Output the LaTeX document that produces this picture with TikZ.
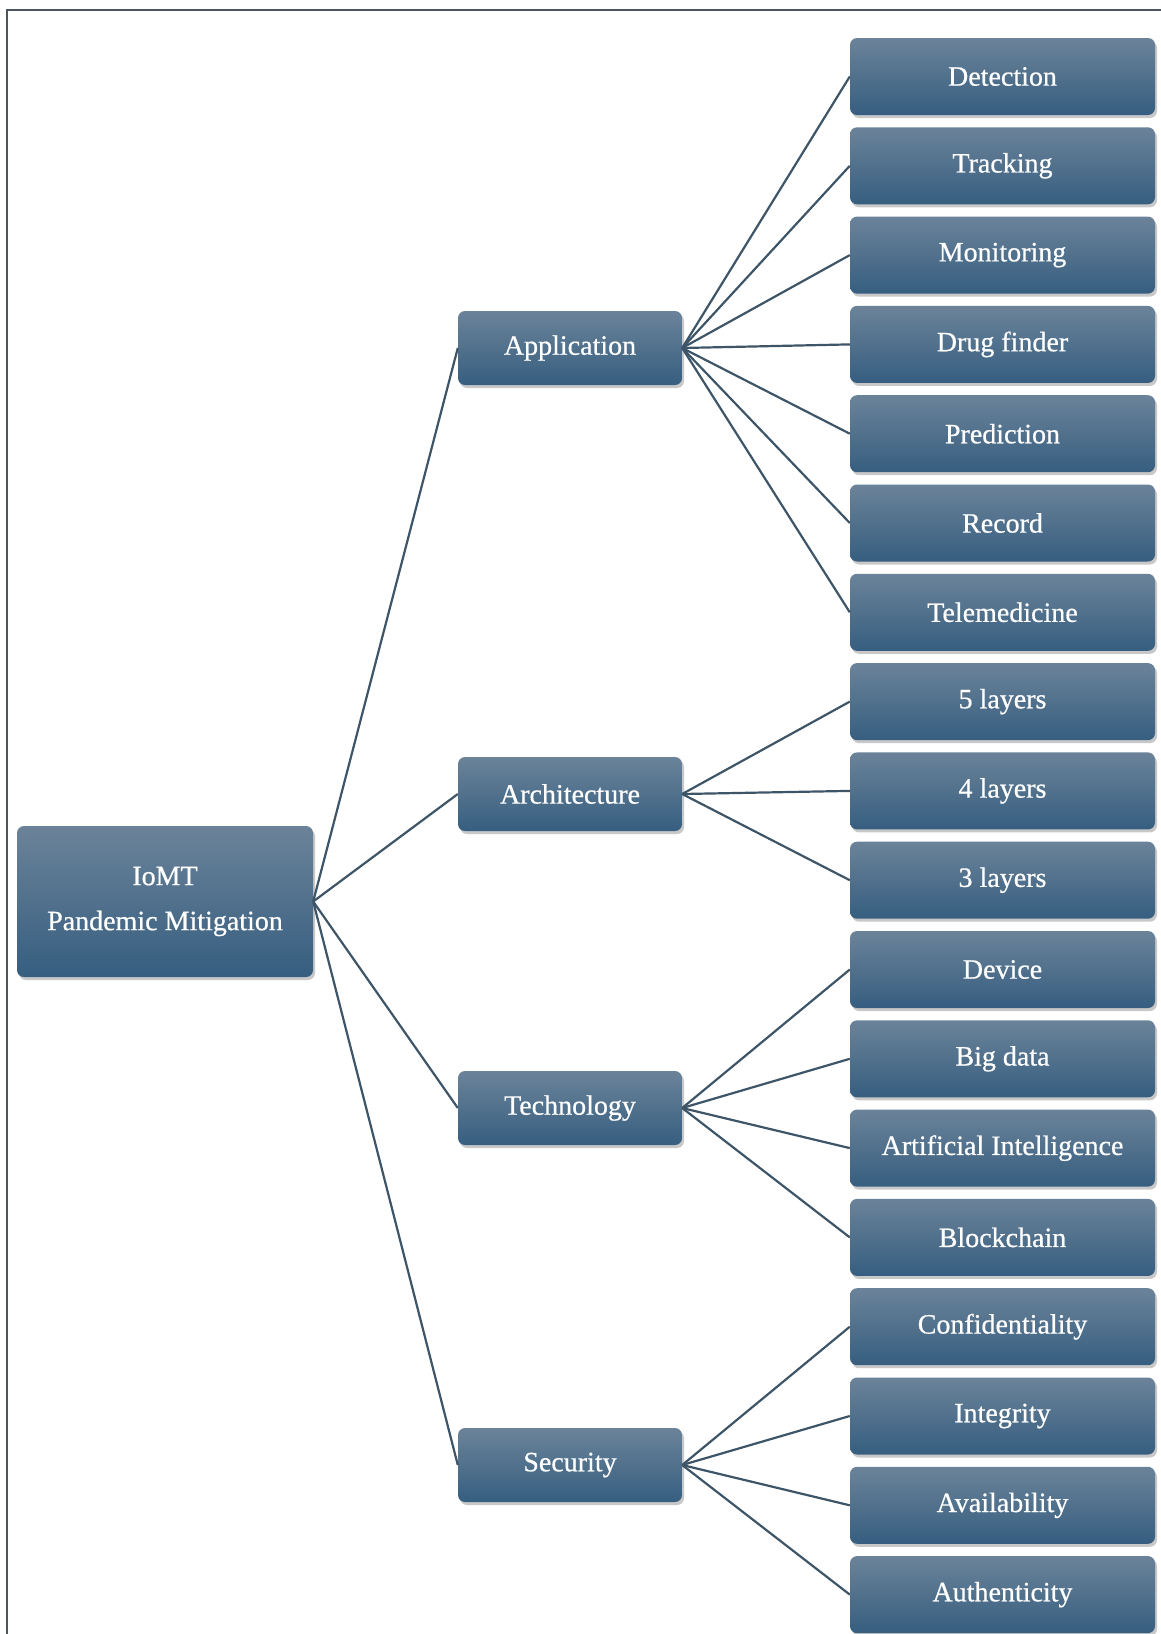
\documentclass[tikz,border=0pt]{standalone}
\usepackage{fontspec}
\setmainfont{Liberation Serif}
\newfontfamily\boxfont[FakeBold=0.6]{Liberation Serif}
\usetikzlibrary{shadows}
\definecolor{boxtop}{HTML}{6B8399}
\definecolor{boxbot}{HTML}{365E80}
\definecolor{linkc}{HTML}{3E5568}
\definecolor{framec}{HTML}{4A5560}
\tikzset{
  box/.style={rounded corners=7pt, top color=boxtop, bottom color=boxbot,
    draw=none, text=white, inner sep=0pt, align=center,
    font=\boxfont\fontsize{28}{45}\selectfont,
    drop shadow={shadow xshift=2pt, shadow yshift=-3pt, opacity=0.3, fill=black!70}},
  leafbox/.style={box, minimum width=305, minimum height=77},
  midbox/.style={box, minimum width=224, minimum height=74},
  rootbox/.style={box, minimum width=296, minimum height=151},
  link/.style={draw=linkc, line width=2.2pt}
}
\begin{document}
\begin{tikzpicture}[x=1pt, y=-1pt]
\useasboundingbox (0,0) rectangle (1161,1634);
\fill[white] (0,0) rectangle (1161,1634);
% outer frame (top and left edges)
\draw[framec, line width=2.2pt] (7,1634) -- (7,10) -- (1161,10);

% root
\node[rootbox] (root) at (165,901.5) {IoMT\\Pandemic Mitigation};

% branches
\node[midbox] (app)  at (570,348)  {Application};
\node[midbox] (arch) at (570,794)  {Architecture};
\node[midbox] (tech) at (570,1108) {Technology};
\node[midbox] (sec)  at (570,1465) {Security};

% leaves
\foreach \name/\txt [count=\i from 0] in {
  det/Detection, trk/Tracking, mon/Monitoring, drug/Drug finder,
  pred/Prediction, rec/Record, tele/Telemedicine,
  lfive/5 layers, lfour/4 layers, lthree/3 layers,
  dev/Device, big/Big data, ai/Artificial Intelligence, blk/Blockchain,
  conf/Confidentiality, integ/Integrity, avail/Availability, auth/Authenticity}
  \node[leafbox] (\name) at (1002.5, 76.5+\i*89.3) {\txt};

% connectors
\foreach \b in {app, arch, tech, sec}
  \draw[link] (root.east) -- (\b.west);
\foreach \l in {det, trk, mon, drug, pred, rec, tele}
  \draw[link] (app.east) -- (\l.west);
\foreach \l in {lfive, lfour, lthree}
  \draw[link] (arch.east) -- (\l.west);
\foreach \l in {dev, big, ai, blk}
  \draw[link] (tech.east) -- (\l.west);
\foreach \l in {conf, integ, avail, auth}
  \draw[link] (sec.east) -- (\l.west);
\end{tikzpicture}
\end{document}
